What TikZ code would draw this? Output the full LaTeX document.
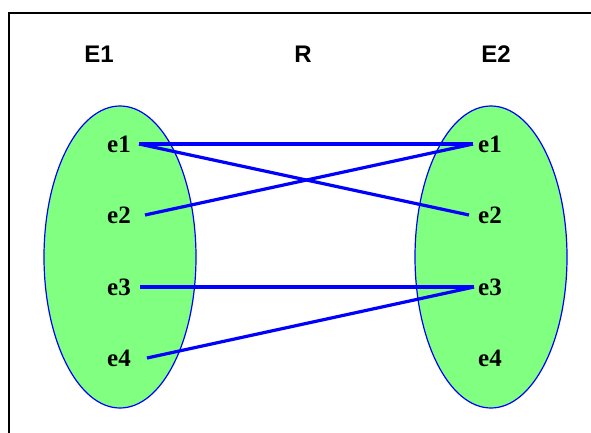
\documentclass[tikz,border=0pt]{standalone}
\usepackage{fontspec}
\setmainfont{Liberation Serif}
\newfontfamily\headfont{Liberation Sans}
\usepackage{tikz}
\definecolor{setgreen}{RGB}{128,255,128}
\definecolor{relblue}{RGB}{0,0,255}
\tikzset{
  setellipse/.style={draw=relblue, fill=setgreen, line width=1.2pt},
  setname/.style={font=\headfont\bfseries\fontsize{24}{24}\selectfont, inner sep=0pt},
  elem/.style={font=\bfseries\fontsize{25}{25}\selectfont, inner sep=0pt},
  relline/.style={draw=relblue, line width=3.2pt}
}

\begin{document}
\begin{tikzpicture}[x=1pt, y=-1pt]
  \useasboundingbox (0,0) rectangle (591,433);
  \clip (0,0) rectangle (591,433);
  \draw[line width=2pt] (9,13) rectangle (600,445);
  % the two sets
  \draw[setellipse] (120,257) ellipse [x radius=76, y radius=151];
  \draw[setellipse] (491,257) ellipse [x radius=76, y radius=151];
  \node[setname] (E1) at (99,54) {E1};
  \node[setname] (R) at (303,54) {R};
  \node[setname] (E2) at (496,54) {E2};
  % elements of E1
  \node[elem] (a1) at (119,144) {e1};
  \node[elem] (a2) at (119,215) {e2};
  \node[elem] (a3) at (119,287) {e3};
  \node[elem] (a4) at (119,358) {e4};
  % elements of E2
  \node[elem] (b1) at (490,144) {e1};
  \node[elem] (b2) at (490,215) {e2};
  \node[elem] (b3) at (490,287) {e3};
  \node[elem] (b4) at (490,358) {e4};
  % the relation
  \draw[relline] ([xshift=8pt]a1.east) -- ([xshift=-5pt]b1.west);
  \draw[relline] ([xshift=8pt]a1.east) -- ([xshift=-9pt]b2.west);
  \draw[relline] ([xshift=14pt]a2.east) -- ([xshift=-5pt]b1.west);
  \draw[relline] ([xshift=9pt]a3.east) -- ([xshift=-4pt]b3.west);
  \draw[relline] ([xshift=16pt]a4.east) -- ([xshift=-4pt]b3.west);
\end{tikzpicture}
\end{document}
